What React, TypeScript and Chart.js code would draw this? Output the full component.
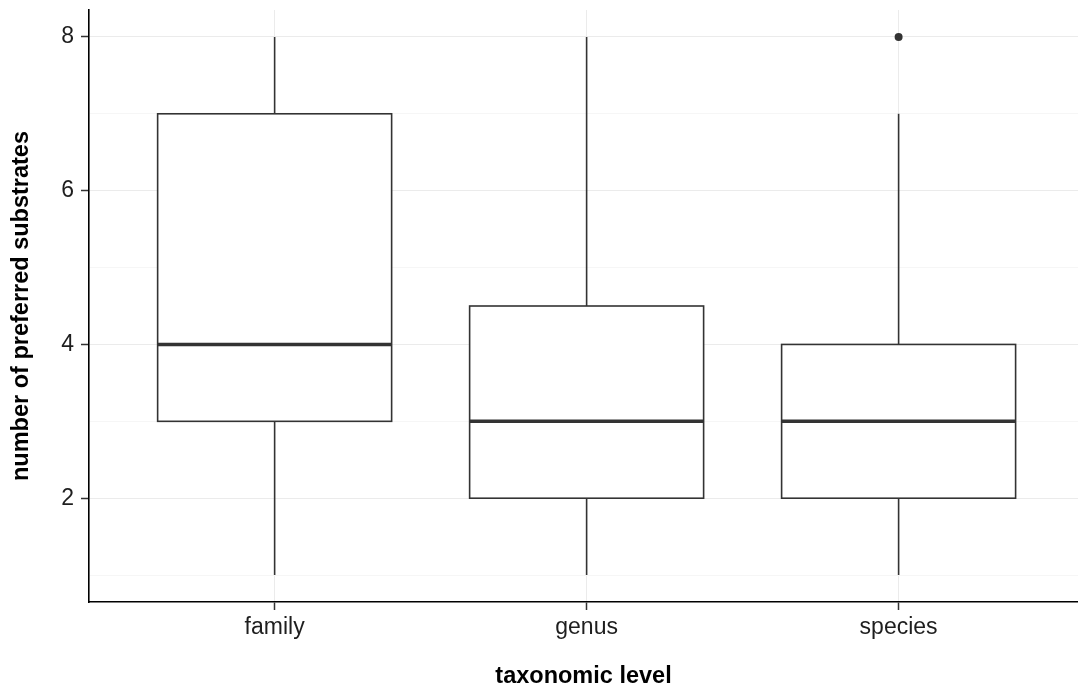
import React, { useEffect, useRef } from "react";
import { Chart, registerables } from "chart.js";

Chart.register(...registerables);

const categories = ["family", "genus", "species"];
const whiskerLow = [1, 1, 1];
const quartile1 = [3, 2, 2];
const medians = [4, 3, 3];
const quartile3 = [7, 4.5, 4];
const whiskerHigh = [8, 8, 7];
const outlierCategory = [3];
const outlierValue = [8];
const yTickValues = [1, 2, 3, 4, 5, 6, 7, 8];
const xTickValues = [1, 2, 3];

const FONT = "Liberation Sans, Arial, sans-serif";

const boxPlugin = {
  id: "boxes",
  beforeDatasetsDraw(chart: any) {
    const { ctx, scales } = chart;
    const xs = scales.x;
    const ys = scales.y;
    const halfW = 0.375;
    ctx.save();
    ctx.strokeStyle = "#333333";
    categories.forEach((_, i) => {
      const c = i + 1;
      const xc = xs.getPixelForValue(c);
      const xl = xs.getPixelForValue(c - halfW);
      const xr = xs.getPixelForValue(c + halfW);
      const yMin = ys.getPixelForValue(whiskerLow[i]);
      const yQ1 = ys.getPixelForValue(quartile1[i]);
      const yMed = ys.getPixelForValue(medians[i]);
      const yQ3 = ys.getPixelForValue(quartile3[i]);
      const yMax = ys.getPixelForValue(whiskerHigh[i]);
      ctx.lineWidth = 1.6;
      ctx.beginPath();
      ctx.moveTo(xc, yQ3);
      ctx.lineTo(xc, yMax);
      ctx.moveTo(xc, yQ1);
      ctx.lineTo(xc, yMin);
      ctx.stroke();
      ctx.fillStyle = "#ffffff";
      ctx.fillRect(xl, yQ3, xr - xl, yQ1 - yQ3);
      ctx.lineWidth = 1.6;
      ctx.strokeRect(xl, yQ3, xr - xl, yQ1 - yQ3);
      ctx.lineWidth = 3.6;
      ctx.beginPath();
      ctx.moveTo(xl, yMed);
      ctx.lineTo(xr, yMed);
      ctx.stroke();
    });
    ctx.restore();
  },
};

export default function App() {
  const ref = useRef<HTMLCanvasElement>(null);
  useEffect(() => {
    document.body.style.margin = "0";
    const canvas = ref.current!;
    const chart = new Chart(canvas, {
      type: "scatter",
      data: {
        datasets: [
          {
            data: outlierCategory.map((c, i) => ({ x: c, y: outlierValue[i] })),
            pointRadius: 4,
            pointBackgroundColor: "#333333",
            pointBorderColor: "#333333",
            pointBorderWidth: 0,
          },
        ],
      },
      options: {
        animation: false,
        responsive: false,
        maintainAspectRatio: false,
        layout: { autoPadding: false, padding: { top: 10, right: 0, left: 0, bottom: 0 } },
        plugins: { legend: { display: false }, tooltip: { enabled: false } },
        scales: {
          x: {
            type: "linear",
            min: 0.405,
            max: 3.575,
            afterBuildTicks: (s: any) => {
              s.ticks = xTickValues.map((v) => ({ value: v }));
            },
            afterFit: (s: any) => {
              s.height = 86;
              s.paddingLeft = 0;
              s.paddingRight = 0;
            },
            ticks: {
              callback: (v: any) => categories[Number(v) - 1] ?? "",
              color: "#1e1e1e",
              font: { family: FONT, size: 23 },
              padding: 4,
              maxRotation: 0,
            },
            grid: {
              color: "#ebebeb",
              lineWidth: 1,
              tickColor: "#333333",
              tickLength: 8,
              tickWidth: 1.5,
            },
            border: { display: true, color: "#000000", width: 1.6 },
            title: {
              display: true,
              text: "taxonomic level",
              color: "#000000",
              font: { family: FONT, size: 23.5, weight: "bold", lineHeight: 1.0 },
              padding: { top: 0, bottom: 0 },
            },
          },
          y: {
            type: "linear",
            min: 0.65,
            max: 8.35,
            afterBuildTicks: (s: any) => {
              s.ticks = yTickValues.map((v) => ({ value: v }));
            },
            afterFit: (s: any) => {
              s.width = 89;
              s.paddingTop = 0;
              s.paddingBottom = 0;
            },
            ticks: {
              callback: (v: any) => (Number(v) % 2 === 0 ? String(v) : ""),
              color: "#1e1e1e",
              font: { family: FONT, size: 23 },
              padding: 7,
            },
            grid: {
              color: (ctx: any) => (ctx.tick && ctx.tick.value % 2 === 0 ? "#ebebeb" : "#f6f6f6"),
              lineWidth: 1,
              tickColor: (ctx: any) => (ctx.tick && ctx.tick.value % 2 === 0 ? "#333333" : "rgba(0,0,0,0)"),
              tickLength: 8,
              tickWidth: 1.5,
            },
            border: { display: true, color: "#000000", width: 1.6 },
            title: {
              display: true,
              text: "number of preferred substrates",
              color: "#000000",
              font: { family: FONT, size: 23.5, weight: "bold" },
              padding: { top: 7, bottom: 0 },
            },
          },
        },
      },
      plugins: [boxPlugin],
    });
    return () => chart.destroy();
  }, []);
  return (
    <div style={{ width: 1078, height: 688 }}>
      <canvas ref={ref} width={1078} height={688} style={{ display: "block" }} />
    </div>
  );
}
